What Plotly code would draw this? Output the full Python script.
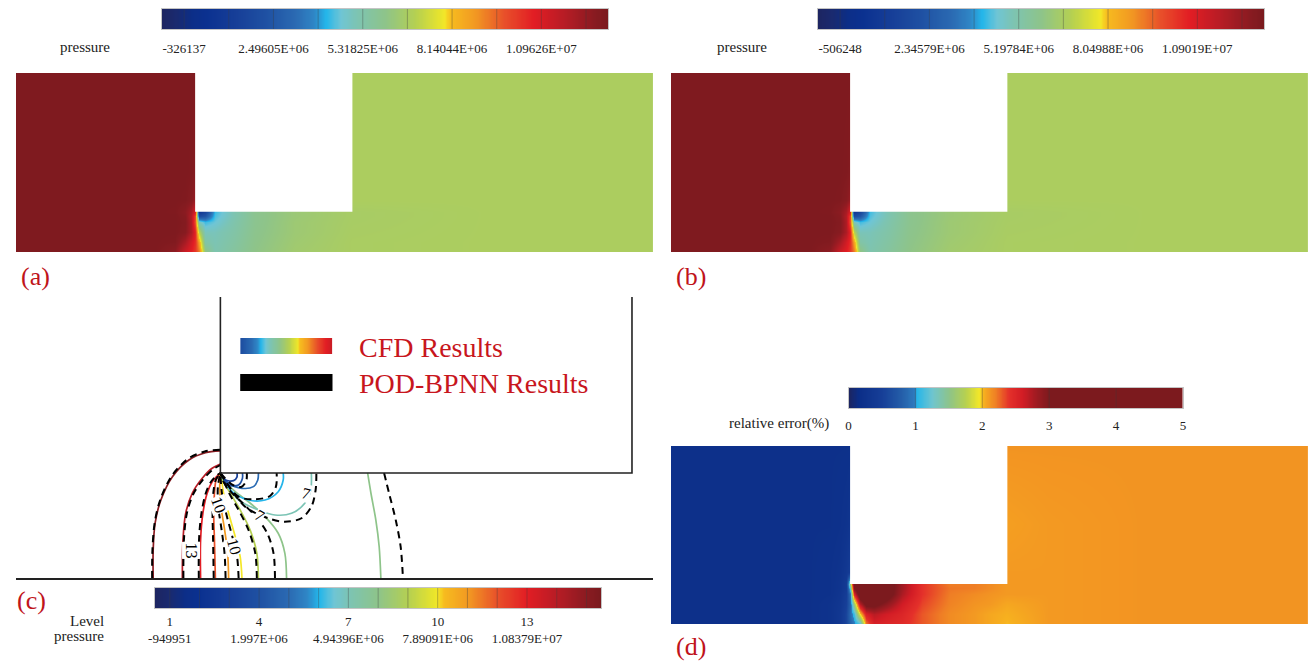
import numpy as np
import plotly.graph_objects as go

FIG_W, FIG_H = 1311, 661
SERIF = "Liberation Serif, Times New Roman, serif"
LABEL_RED = "#c0141b"

# ---------------- geometry (channel-height units) ----------------
DOMAIN_LEN = 16.0
DOMAIN_HT = 4.45
STEP_X = [4.5, 8.45]     # obstacle left / right edge
STEP_Y = 1.0             # channel height under the obstacle

# ---------------- (a) CFD pressure field (MPa) ----------------
xs_a = [0, 3.5, 4.0, 4.25, 4.4, 4.5, 4.6, 4.75, 5.0, 5.5, 6.0, 7.0, 8.45, 12, 16]
ys_a = [0, 0.25, 0.5, 0.75, 0.9, 1.0, 1.3, 2.0, 4.45]
p_a = [
    [12.94, 12.94, 12.50, 11.20, 10.70, 10.20, 9.30, 6.20, 5.20, 5.60, 6.05, 6.50, 6.70, 6.75, 6.75],
    [12.94, 12.94, 12.85, 12.00, 11.10, 10.40, 8.60, 5.40, 5.10, 5.50, 6.00, 6.45, 6.70, 6.75, 6.75],
    [12.94, 12.94, 12.94, 12.70, 11.90, 10.60, 7.00, 5.00, 5.00, 5.40, 5.95, 6.40, 6.68, 6.75, 6.75],
    [12.94, 12.94, 12.94, 12.80, 11.90, 9.80, 5.00, 4.30, 4.60, 5.30, 5.90, 6.40, 6.66, 6.75, 6.75],
    [12.94, 12.94, 12.94, 12.70, 11.80, 10.00, 2.00, 2.40, 4.40, 5.20, 5.90, 6.35, 6.65, 6.75, 6.75],
    [12.94, 12.94, 12.90, 12.60, 12.00, 10.80, 0.80, 1.60, 4.30, 5.20, 5.90, 6.35, 6.65, 6.75, 6.75],
    [12.94, 12.94, 12.94, 12.90, 12.70, 12.30, 0.80, 1.60, 4.30, 5.20, 5.90, 6.35, 6.75, 6.75, 6.75],
    [12.94, 12.94, 12.94, 12.94, 12.90, 12.80, 0.80, 1.60, 4.30, 5.20, 5.90, 6.35, 6.75, 6.75, 6.75],
    [12.94, 12.94, 12.94, 12.94, 12.94, 12.94, 0.80, 1.60, 4.30, 5.20, 5.90, 6.35, 6.75, 6.75, 6.75],
]
ticks_a = [-0.326137, 2.49605, 5.31825, 8.14044, 10.9626]
ticktext_a = ["-326137", "2.49605E+06", "5.31825E+06", "8.14044E+06", "1.09626E+07"]

# ---------------- (b) POD-BPNN pressure field (MPa) ----------------
xs_b = [0, 3.5, 4.0, 4.25, 4.4, 4.5, 4.6, 4.75, 5.0, 5.5, 6.0, 7.0, 8.45, 12, 16]
ys_b = [0, 0.25, 0.5, 0.75, 0.9, 1.0, 1.3, 2.0, 4.45]
p_b = [
    [12.90, 12.90, 12.45, 11.15, 10.65, 10.15, 9.20, 6.10, 5.10, 5.50, 5.95, 6.40, 6.60, 6.64, 6.64],
    [12.90, 12.90, 12.80, 11.95, 11.05, 10.35, 8.50, 5.30, 5.00, 5.40, 5.90, 6.35, 6.60, 6.64, 6.64],
    [12.90, 12.90, 12.90, 12.65, 11.85, 10.55, 6.90, 4.90, 4.90, 5.30, 5.85, 6.30, 6.58, 6.64, 6.64],
    [12.90, 12.90, 12.90, 12.75, 11.85, 9.70, 4.90, 4.20, 4.50, 5.20, 5.80, 6.30, 6.56, 6.64, 6.64],
    [12.90, 12.90, 12.90, 12.65, 11.75, 9.90, 1.80, 2.30, 4.30, 5.10, 5.80, 6.25, 6.55, 6.64, 6.64],
    [12.90, 12.90, 12.85, 12.55, 11.95, 10.70, 0.60, 1.50, 4.20, 5.10, 5.80, 6.25, 6.55, 6.64, 6.64],
    [12.90, 12.90, 12.90, 12.85, 12.65, 12.25, 0.60, 1.50, 4.20, 5.10, 5.80, 6.25, 6.64, 6.64, 6.64],
    [12.90, 12.90, 12.90, 12.90, 12.85, 12.75, 0.60, 1.50, 4.20, 5.10, 5.80, 6.25, 6.64, 6.64, 6.64],
    [12.90, 12.90, 12.90, 12.90, 12.90, 12.90, 0.60, 1.50, 4.20, 5.10, 5.80, 6.25, 6.64, 6.64, 6.64],
]
ticks_b = [-0.506248, 2.34579, 5.19784, 8.04988, 10.9019]
ticktext_b = ["-506248", "2.34579E+06", "5.19784E+06", "8.04988E+06", "1.09019E+07"]

# ---------------- (c) contour levels ----------------
level_ticks_c = [1, 4, 7, 10, 13]
ticktext_c = ["1<br>-949951", "4<br>1.997E+06", "7<br>4.94396E+06",
              "10<br>7.89091E+06", "13<br>1.08379E+07"]
n_levels_c = 15

# CFD contour lines (level, x, y)
cfd_lines = [
    (15, [3.855, 3.855, 3.874, 3.929, 4.040, 4.198, 4.357, 4.5], [0, 0.267, 0.524, 0.743, 0.965, 1.124, 1.193, 1.21]),
    (14, [4.135, 4.141, 4.167, 4.230, 4.326, 4.421, 4.5], [0, 0.362, 0.616, 0.807, 0.950, 1.045, 1.086]),
    (13, [4.310, 4.310, 4.332, 4.373, 4.421, 4.469, 4.5], [0, 0.362, 0.616, 0.807, 0.917, 0.971, 1.0]),
    (12, [4.452, 4.443, 4.436, 4.443, 4.459, 4.5], [0, 0.362, 0.616, 0.807, 0.933, 1.0]),
    (11, [4.579, 4.570, 4.541, 4.506, 4.494, 4.5], [0, 0.235, 0.457, 0.679, 0.869, 1.0]),
    (10, [4.707, 4.690, 4.643, 4.579, 4.531, 4.510, 4.5], [0, 0.203, 0.393, 0.616, 0.807, 0.950, 1.0]),
    (9, [4.865, 4.850, 4.786, 4.690, 4.595, 4.522, 4.5], [0, 0.235, 0.457, 0.648, 0.807, 0.933, 1.0]),
    (8, [5.135, 5.119, 5.055, 4.929, 4.770, 4.643, 4.548, 4.5], [0, 0.235, 0.426, 0.584, 0.726, 0.822, 0.917, 1.0]),
    (8, [5.913, 5.945, 5.992, 6.024, 6.040], [1.0, 0.807, 0.552, 0.298, 0]),
    (7, [4.5, 4.674, 4.865, 5.024, 5.183, 5.310, 5.367, 5.373], [1.0, 0.743, 0.648, 0.600, 0.616, 0.711, 0.838, 1.0]),
    (6, [4.5, 4.611, 4.770, 4.929, 5.055, 5.103, 5.103], [1.0, 0.822, 0.743, 0.743, 0.822, 0.933, 1.0]),
    (5, [4.5, 4.579, 4.707, 4.817, 4.859, 4.865], [1.0, 0.902, 0.854, 0.870, 0.933, 1.0]),
    (4, [4.5, 4.579, 4.674, 4.712, 4.712], [1.0, 0.886, 0.886, 0.950, 1.0]),
    (3, [4.5, 4.548, 4.627, 4.659, 4.660], [1.0, 0.933, 0.927, 0.960, 1.0]),
]
# POD-BPNN contour lines (x, y)
pod_lines = [
    ([3.845, 3.848, 3.870, 3.925, 4.035, 4.190, 4.350, 4.5], [0, 0.267, 0.530, 0.750, 0.975, 1.135, 1.205, 1.222]),
    ([4.145, 4.150, 4.177, 4.240, 4.335, 4.430, 4.5], [0, 0.362, 0.610, 0.800, 0.940, 1.035, 1.075]),
    ([4.293, 4.295, 4.318, 4.360, 4.410, 4.460, 4.5], [0, 0.362, 0.616, 0.807, 0.917, 0.971, 1.0]),
    ([4.436, 4.430, 4.425, 4.432, 4.455, 4.5], [0, 0.362, 0.616, 0.807, 0.933, 1.0]),
    ([4.550, 4.540, 4.512, 4.480, 4.476, 4.5], [0, 0.235, 0.457, 0.679, 0.869, 1.0]),
    ([4.675, 4.660, 4.615, 4.555, 4.515, 4.5], [0, 0.203, 0.393, 0.616, 0.807, 1.0]),
    ([4.850, 4.835, 4.770, 4.675, 4.585, 4.5], [0, 0.235, 0.457, 0.648, 0.807, 1.0]),
    ([5.024, 5.010, 4.950, 4.840, 4.700, 4.600, 4.530, 4.5], [0, 0.235, 0.426, 0.584, 0.726, 0.822, 0.917, 1.0]),
    ([6.071, 6.119, 6.183, 6.230, 6.252], [1.0, 0.807, 0.552, 0.298, 0]),
    ([4.5, 4.738, 4.960, 5.119, 5.278, 5.373, 5.414, 5.421], [1.0, 0.679, 0.569, 0.536, 0.569, 0.679, 0.838, 1.0]),
    ([4.5, 4.674, 4.833, 4.976, 5.033, 5.040], [1.0, 0.775, 0.750, 0.781, 0.870, 1.0]),
    ([4.5, 4.605, 4.700, 4.748, 4.754], [1.0, 0.895, 0.867, 0.924, 1.0]),
]
# contour line labels (text, x, y, angle)
contour_labels = [
    ("13", 4.214, 0.267, 90),
    ("10", 4.490, 0.695, 70),
    ("10", 4.631, 0.298, 75),
    ("7", 4.881, 0.600, 30),
    ("7", 5.326, 0.806, 15),
]

# ---------------- (d) relative error field (%) ----------------
xs_d = [0, 3.5, 4.0, 4.25, 4.4, 4.5, 4.6, 4.75, 4.9, 5.1, 5.4, 5.8, 6.3, 7.0, 7.6, 8.0, 8.45, 9.5, 12, 16]
ys_d = [0, 0.25, 0.5, 0.75, 0.9, 1.0, 1.3, 2.5, 4.45]
err_d = [
    [0.20, 0.20, 0.25, 0.35, 0.55, 0.80, 0.95, 1.15, 2.20, 2.55, 2.50, 2.45, 2.30, 2.15, 2.10, 2.05, 2.00, 2.10, 2.12, 2.12],
    [0.20, 0.20, 0.25, 0.35, 0.55, 0.85, 1.10, 1.95, 2.55, 2.70, 2.60, 2.50, 2.30, 2.15, 2.10, 2.05, 2.02, 2.10, 2.12, 2.12],
    [0.20, 0.20, 0.25, 0.33, 0.50, 0.80, 1.60, 2.70, 3.10, 3.10, 2.90, 2.60, 2.35, 2.18, 2.12, 2.10, 2.05, 2.10, 2.12, 2.12],
    [0.20, 0.20, 0.22, 0.30, 0.45, 0.90, 2.50, 3.30, 3.40, 3.40, 3.20, 2.75, 2.40, 2.20, 2.15, 2.12, 2.10, 2.10, 2.12, 2.12],
    [0.20, 0.20, 0.22, 0.28, 0.40, 1.20, 3.00, 3.40, 3.40, 3.40, 3.20, 2.80, 2.40, 2.22, 2.20, 2.15, 2.10, 2.10, 2.12, 2.12],
    [0.20, 0.20, 0.22, 0.28, 0.40, 1.50, 3.20, 3.40, 3.40, 3.40, 3.20, 2.80, 2.40, 2.20, 2.20, 2.15, 2.10, 2.10, 2.12, 2.12],
    [0.20, 0.20, 0.22, 0.26, 0.35, 0.45, 3.20, 3.40, 3.40, 3.40, 3.20, 2.80, 2.40, 2.20, 2.20, 2.15, 2.10, 2.10, 2.12, 2.12],
    [0.20, 0.20, 0.20, 0.22, 0.25, 0.30, 3.20, 3.40, 3.40, 3.40, 3.20, 2.80, 2.40, 2.20, 2.20, 2.15, 2.08, 2.10, 2.12, 2.12],
    [0.20, 0.20, 0.20, 0.20, 0.20, 0.20, 3.20, 3.40, 3.40, 3.40, 3.20, 2.80, 2.40, 2.20, 2.20, 2.15, 2.12, 2.12, 2.12, 2.12],
]
ticks_d = [0, 1, 2, 3, 4, 5]
ticktext_d = ["0", "1", "2", "3", "4", "5"]

# ---------------- colour scales ----------------
PRESSURE_SCALE = [
    [0.000, "#1d2561"], [0.033, "#1a2a70"], [0.067, "#0c2e88"], [0.100, "#0b3190"],
    [0.167, "#173f98"], [0.233, "#1f51a3"], [0.300, "#2b6bb3"], [0.340, "#2f86c6"],
    [0.367, "#25b6ea"], [0.400, "#6fc5d6"], [0.433, "#7cc4b5"], [0.500, "#8ec48a"],
    [0.567, "#b5d052"], [0.620, "#e6e32f"], [0.633, "#f4e829"], [0.645, "#f7bd1f"],
    [0.700, "#f29a22"], [0.767, "#e8502a"], [0.833, "#e21d24"], [0.900, "#b81c25"],
    [0.967, "#8a1b21"], [1.000, "#7a1a1e"],
]
ERROR_SCALE = [
    [0.000, "#1d2561"], [0.030, "#0b2e88"], [0.100, "#173f98"], [0.160, "#2560aa"],
    [0.198, "#2f7dc0"], [0.202, "#25b6ea"], [0.250, "#70c5cf"], [0.300, "#8ec48a"],
    [0.350, "#b8d14f"], [0.390, "#f4e829"], [0.402, "#f7b21f"], [0.440, "#ef7e25"],
    [0.480, "#e4302a"], [0.520, "#d21c25"], [0.560, "#a01b22"], [0.600, "#7c1a1e"],
    [1.000, "#7c1a1e"],
]


def scale_color(scale, t):
    t = min(max(t, 0.0), 1.0)
    for (t0, c0), (t1, c1) in zip(scale[:-1], scale[1:]):
        if t0 <= t <= t1:
            f = 0 if t1 == t0 else (t - t0) / (t1 - t0)
            a = [int(c0[i:i + 2], 16) for i in (1, 3, 5)]
            b = [int(c1[i:i + 2], 16) for i in (1, 3, 5)]
            return "rgb(%d,%d,%d)" % tuple(round(a[k] + f * (b[k] - a[k])) for k in range(3))
    return scale[-1][1]


def px_x(px):
    return px / FIG_W


def px_y(py):
    return 1 - py / FIG_H


# colour-bar ranges (half a segment beyond first / last separator)
def bar_range(ticks, n_seg):
    seg = (ticks[1] - ticks[0]) / 2.0
    return ticks[0] - 0.5 * seg, ticks[0] + (n_seg - 0.5) * seg, seg


vmin_a, vmax_a, seg_a = bar_range(ticks_a, 10)
vmin_b, vmax_b, seg_b = bar_range(ticks_b, 10)

fig = go.Figure()

# ---------------- field panels ----------------
fig.add_trace(go.Heatmap(x=xs_a, y=ys_a, z=p_a, colorscale=PRESSURE_SCALE, zmin=vmin_a, zmax=vmax_a,
                         zsmooth="best", showscale=False, hoverinfo="skip", xaxis="x", yaxis="y"))
fig.add_trace(go.Heatmap(x=xs_b, y=ys_b, z=p_b, colorscale=PRESSURE_SCALE, zmin=vmin_b, zmax=vmax_b,
                         zsmooth="best", showscale=False, hoverinfo="skip", xaxis="x2", yaxis="y2"))
fig.add_trace(go.Heatmap(x=xs_d, y=ys_d, z=err_d, colorscale=ERROR_SCALE, zmin=0, zmax=5,
                         zsmooth="best", showscale=False, hoverinfo="skip", xaxis="x4", yaxis="y4"))

shapes = []
for ax in ["", "2", "4"]:
    shapes.append(dict(type="rect", xref="x" + ax, yref="y" + ax, x0=STEP_X[0], x1=STEP_X[1],
                       y0=STEP_Y, y1=DOMAIN_HT, fillcolor="white", line=dict(width=0), layer="above"))

# ---------------- (c) contour panel ----------------
C_YMAX = 2.676
C_XR = [2.538, 8.652]
for lev, xv, yv in cfd_lines:
    col = scale_color(PRESSURE_SCALE, (lev - 0.5) / n_levels_c)
    fig.add_trace(go.Scatter(x=xv, y=yv, mode="lines", line=dict(color=col, width=1.7, shape="spline", smoothing=0.9),
                             hoverinfo="skip", showlegend=False, xaxis="x3", yaxis="y3"))
for xv, yv in pod_lines:
    fig.add_trace(go.Scatter(x=xv, y=yv, mode="lines",
                             line=dict(color="black", width=2.0, dash="7px,5px", shape="spline", smoothing=0.9),
                             hoverinfo="skip", showlegend=False, xaxis="x3", yaxis="y3"))
shapes.append(dict(type="rect", xref="x3", yref="y3", x0=STEP_X[0], x1=STEP_X[1], y0=STEP_Y, y1=C_YMAX,
                   fillcolor="white", line=dict(width=0), layer="below"))
shapes.append(dict(type="path", xref="x3", yref="y3",
                   path="M %g,%g L %g,%g L %g,%g L %g,%g" % (STEP_X[0], C_YMAX, STEP_X[0], STEP_Y,
                                                             STEP_X[1], STEP_Y, STEP_X[1], C_YMAX),
                   line=dict(color="#222", width=1.6), layer="above"))

annotations = []
for txt, x, y, ang in contour_labels:
    annotations.append(dict(text=txt, x=x, y=y, xref="x3", yref="y3", showarrow=False, textangle=ang,
                            font=dict(family=SERIF, size=16, color="black"), bgcolor="white", borderpad=0))

# ---------------- colour bars (drawn as heatmaps on own axes) ----------------
def add_bar(axid, vmin, vmax, scale, seps):
    xv = np.linspace(vmin, vmax, 400)
    fig.add_trace(go.Heatmap(x=xv, y=[0, 1], z=[xv, xv], colorscale=scale, zmin=vmin, zmax=vmax,
                             zsmooth="best", showscale=False, hoverinfo="skip",
                             xaxis="x" + axid, yaxis="y" + axid))
    for s in seps:
        shapes.append(dict(type="line", xref="x" + axid, yref="y%s domain" % axid, x0=s, x1=s, y0=0, y1=1,
                           line=dict(color="rgba(60,60,60,0.35)", width=1), layer="above"))


add_bar("5", vmin_a, vmax_a, PRESSURE_SCALE, [ticks_a[0] + k * seg_a for k in range(10)])
add_bar("6", vmin_b, vmax_b, PRESSURE_SCALE, [ticks_b[0] + k * seg_b for k in range(10)])
add_bar("7", 0.5, n_levels_c + 0.5, PRESSURE_SCALE, list(range(1, n_levels_c + 1)))
add_bar("8", 0, 5, ERROR_SCALE, [1, 2, 3, 4])

# legend gradient key
kv = np.linspace(0.22, 0.88, 200)
fig.add_trace(go.Heatmap(x=kv, y=[0, 1], z=[kv, kv], colorscale=PRESSURE_SCALE, zmin=0, zmax=1,
                         zsmooth="best", showscale=False, hoverinfo="skip", xaxis="x9", yaxis="y9"))
shapes.append(dict(type="rect", xref="paper", yref="paper", x0=px_x(235), x1=px_x(328),
                   y0=px_y(391), y1=px_y(374), fillcolor="black", line=dict(width=0)))
annotations.append(dict(text="CFD Results", x=px_x(353), y=px_y(347), xref="paper", yref="paper",
                        xanchor="left", yanchor="middle", showarrow=False,
                        font=dict(family=SERIF, size=28, color="#c8161d")))
annotations.append(dict(text="POD-BPNN Results", x=px_x(353), y=px_y(383), xref="paper", yref="paper",
                        xanchor="left", yanchor="middle", showarrow=False,
                        font=dict(family=SERIF, size=28, color="#c8161d")))

# bar titles
def title(text, xr, yc, size=15):
    annotations.append(dict(text=text, x=px_x(xr), y=px_y(yc), xref="paper", yref="paper",
                            xanchor="right", yanchor="middle", showarrow=False, align="right",
                            font=dict(family=SERIF, size=size, color="#222")))


title("pressure", 106, 47)
title("pressure", 768, 47)
title("Level", 100, 621)
title("pressure", 100, 636)
title("relative error(%)", 830, 423)

# panel letters
for txt, x, y in [("(a)", 29, 276), ("(b)", 689, 276), ("(c)", 25, 600), ("(d)", 689, 646)]:
    annotations.append(dict(text=txt, x=px_x(x), y=px_y(y), xref="paper", yref="paper",
                            xanchor="center", yanchor="middle", showarrow=False,
                            font=dict(family=SERIF, size=26, color=LABEL_RED)))

# ---------------- axes ----------------
def field_axes(xd, yd, xr, yr):
    common = dict(showgrid=False, zeroline=False, showticklabels=False, ticks="", fixedrange=True)
    return dict(domain=xd, range=xr, **common), dict(domain=yd, range=yr, **common)


layout_axes = {}
ax_a = field_axes([px_x(9), px_x(651)], [px_y(252), px_y(73)], [0, DOMAIN_LEN], [0, DOMAIN_HT])
ax_b = field_axes([px_x(669), px_x(1311)], [px_y(252), px_y(73)], [0, DOMAIN_LEN], [0, DOMAIN_HT])
ax_c = field_axes([px_x(9), px_x(651)], [px_y(578), px_y(297)], C_XR, [0, C_YMAX])
ax_d = field_axes([px_x(669), px_x(1311)], [px_y(624), px_y(446)], [0, DOMAIN_LEN], [0, DOMAIN_HT])
ax_c[0].update(showline=True, linecolor="#222", linewidth=1.6)

for i, (xa, ya) in zip(["", "2", "3", "4"], [ax_a, ax_b, ax_c, ax_d]):
    xa = dict(xa, anchor="y" + i)
    ya = dict(ya, anchor="x" + i)
    layout_axes["xaxis" + i] = xa
    layout_axes["yaxis" + i] = ya


def bar_axes(i, xd, yd, xr, tv, tt, ticklen=7):
    layout_axes["xaxis" + i] = dict(domain=xd, range=xr, anchor="y" + i, tickvals=tv, ticktext=tt,
                                    ticks="outside", ticklen=ticklen, tickcolor="rgba(0,0,0,0)",
                                    tickfont=dict(family=SERIF, size=13, color="#222"),
                                    showline=True, mirror=True, linecolor="#c4c4c4", linewidth=1,
                                    showgrid=False, zeroline=False, fixedrange=True)
    layout_axes["yaxis" + i] = dict(domain=yd, range=[0, 1], anchor="x" + i, showticklabels=False, ticks="",
                                    showline=True, mirror=True, linecolor="#c4c4c4", linewidth=1,
                                    showgrid=False, zeroline=False, fixedrange=True)


bar_axes("5", [px_x(156), px_x(606)], [px_y(29), px_y(9)], [vmin_a, vmax_a], ticks_a, ticktext_a)
bar_axes("6", [px_x(817), px_x(1267)], [px_y(29), px_y(9)], [vmin_b, vmax_b], ticks_b, ticktext_b)
bar_axes("7", [px_x(149), px_x(599)], [px_y(608), px_y(588)], [0.5, n_levels_c + 0.5], level_ticks_c, ticktext_c, 1)
bar_axes("8", [px_x(848), px_x(1185)], [px_y(408), px_y(388)], [0, 5], ticks_d, ticktext_d, 5)

layout_axes["xaxis9"] = dict(domain=[px_x(235), px_x(328)], range=[0.22, 0.88], anchor="y9", visible=False, fixedrange=True)
layout_axes["yaxis9"] = dict(domain=[px_y(354), px_y(338)], range=[0, 1], anchor="x9", visible=False, fixedrange=True)

fig.update_layout(
    width=FIG_W, height=FIG_H, margin=dict(l=0, r=0, t=0, b=0),
    paper_bgcolor="white", plot_bgcolor="rgba(0,0,0,0)",
    showlegend=False, hovermode=False,
    shapes=shapes, annotations=annotations,
    **layout_axes,
)

fig.write_html("out.html", config={"displayModeBar": False},
               post_script="document.body.style.margin='0';document.body.style.overflow='hidden';")
